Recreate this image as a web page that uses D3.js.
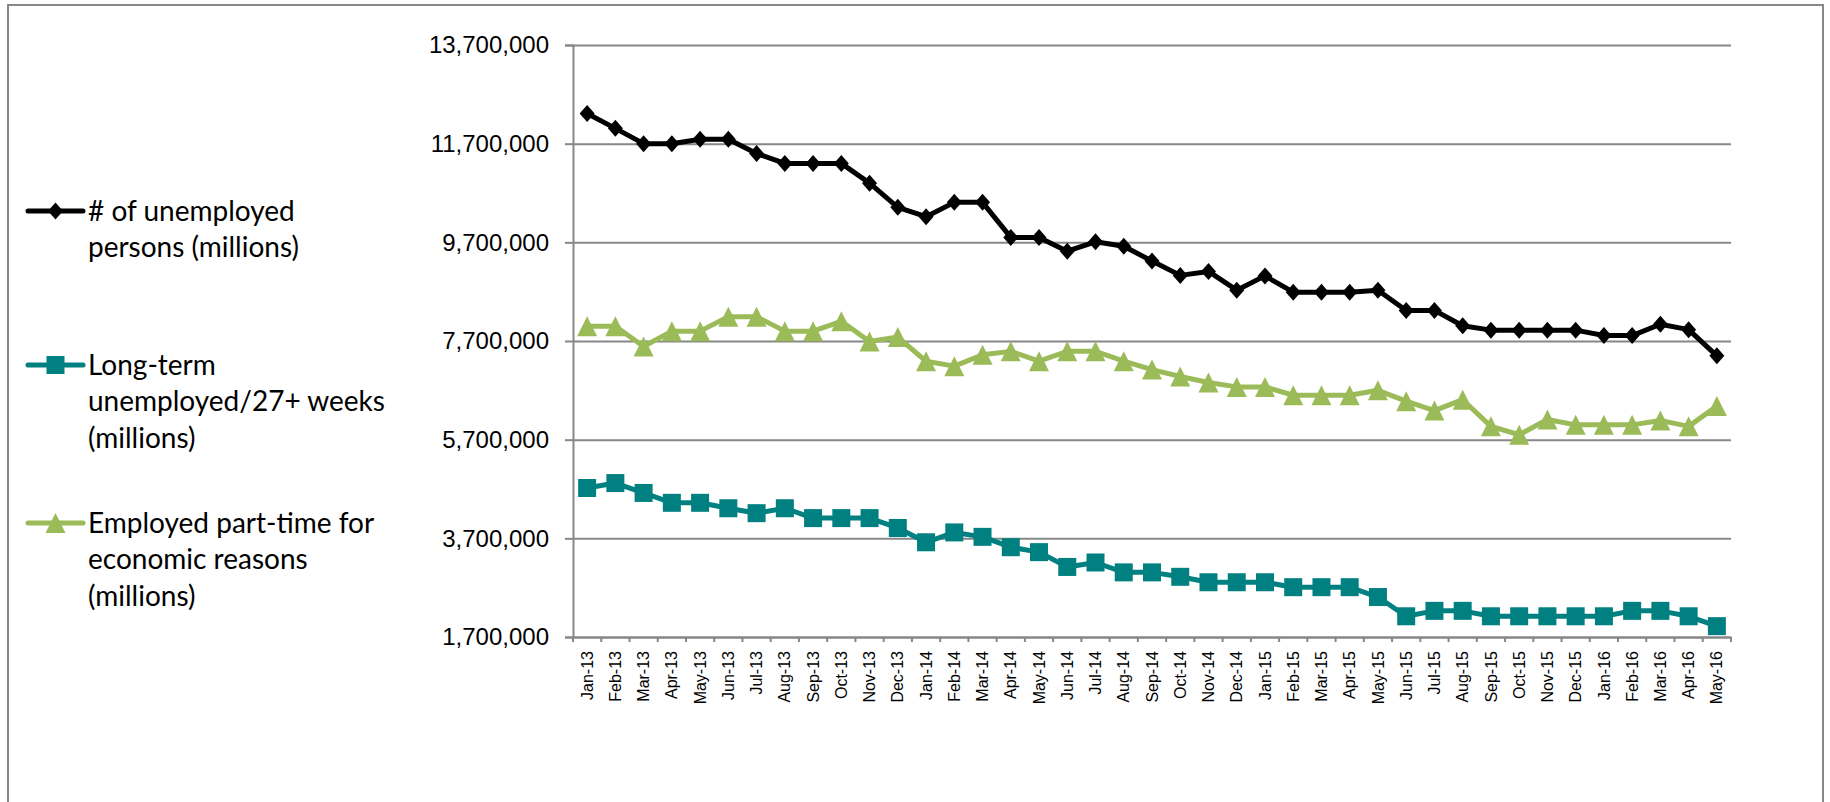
<!DOCTYPE html>
<html>
<head>
<meta charset="utf-8">
<script src="https://cdn.jsdelivr.net/npm/d3@7"></script>
<style>
  body { margin: 0; background: #fff; }
  svg { display: block; font-family: Lato, "Open Sans", sans-serif; }
</style>
</head>
<body>
<div id="chart"></div>
<script>
const months = [
  "Jan-13", "Feb-13", "Mar-13", "Apr-13", "May-13", "Jun-13", "Jul-13", "Aug-13", "Sep-13", "Oct-13", "Nov-13", "Dec-13",
  "Jan-14", "Feb-14", "Mar-14", "Apr-14", "May-14", "Jun-14", "Jul-14", "Aug-14", "Sep-14", "Oct-14", "Nov-14", "Dec-14",
  "Jan-15", "Feb-15", "Mar-15", "Apr-15", "May-15", "Jun-15", "Jul-15", "Aug-15", "Sep-15", "Oct-15", "Nov-15", "Dec-15",
  "Jan-16", "Feb-16", "Mar-16", "Apr-16", "May-16"
];
const unemployed = [
  12310000, 12010000, 11700000, 11700000, 11790000, 11790000, 11500000, 11300000, 11300000, 11300000, 10900000, 10410000,
  10220000, 10510000, 10510000, 9800000, 9800000, 9520000, 9710000, 9620000, 9320000, 9030000, 9110000, 8730000,
  9020000, 8690000, 8690000, 8690000, 8730000, 8320000, 8320000, 8010000, 7920000, 7920000, 7920000, 7920000,
  7810000, 7810000, 8040000, 7930000, 7400000
];
const longTerm = [
  4720000, 4820000, 4620000, 4420000, 4420000, 4310000, 4210000, 4310000, 4110000, 4110000, 4110000, 3910000,
  3620000, 3820000, 3730000, 3520000, 3420000, 3120000, 3210000, 3010000, 3010000, 2920000, 2810000, 2810000,
  2810000, 2710000, 2710000, 2710000, 2510000, 2120000, 2230000, 2230000, 2120000, 2120000, 2120000, 2120000,
  2120000, 2230000, 2230000, 2120000, 1920000
];
const partTime = [
  8000000, 8000000, 7590000, 7900000, 7900000, 8190000, 8190000, 7900000, 7900000, 8100000, 7690000, 7780000,
  7290000, 7190000, 7420000, 7490000, 7290000, 7490000, 7490000, 7290000, 7120000, 6980000, 6860000, 6770000,
  6770000, 6600000, 6600000, 6600000, 6700000, 6480000, 6290000, 6510000, 5970000, 5800000, 6110000, 6000000,
  6000000, 6000000, 6090000, 5970000, 6380000
];
const yTicks = [1700000, 3700000, 5700000, 7700000, 9700000, 11700000, 13700000];

const seriesNames = [
  ["# of unemployed", "persons (millions)"],
  ["Long-term", "unemployed/27+ weeks", "(millions)"],
  ["Employed part-time for", "economic reasons", "(millions)"]
];

const width = 1830, height = 802;
const plot = { left: 573, right: 1731, top: 45, bottom: 637 };
const gridColor = "#878787";

const svg = d3.select("#chart").append("svg")
  .attr("width", width)
  .attr("height", height);

// outer chart border (bottom edge runs off the page)
svg.append("rect")
  .attr("x", 8).attr("y", 5)
  .attr("width", 1815).attr("height", 820)
  .attr("fill", "none")
  .attr("stroke", gridColor)
  .attr("stroke-width", 2);

const x = d3.scaleBand().domain(months).range([plot.left, plot.right]);
const y = d3.scaleLinear().domain([1700000, 13700000]).range([plot.bottom, plot.top]);

// gridlines
svg.append("g")
  .attr("transform", `translate(${plot.left},0)`)
  .call(d3.axisLeft(y).tickValues(yTicks).tickSize(-(plot.right - plot.left)).tickFormat(""))
  .call(g => g.select(".domain").remove())
  .selectAll("line")
  .attr("stroke", gridColor)
  .attr("stroke-width", 2);

// y axis
const yAxis = svg.append("g")
  .attr("transform", `translate(${plot.left},0)`)
  .call(d3.axisLeft(y).tickValues(yTicks).tickSize(8).tickPadding(16).tickFormat(d3.format(",")));
yAxis.select(".domain").attr("stroke", gridColor).attr("stroke-width", 2);
yAxis.selectAll("line").attr("stroke", gridColor).attr("stroke-width", 2);
yAxis.selectAll("text").style("font-size", "24px").attr("fill", "#000");

// x axis: labels at category centres, ticks between categories
const xAxis = svg.append("g")
  .attr("transform", `translate(0,${plot.bottom})`)
  .call(d3.axisBottom(x).tickSize(0));
xAxis.select(".domain").attr("stroke", gridColor).attr("stroke-width", 2);
xAxis.selectAll("text")
  .attr("transform", "rotate(-90)")
  .attr("x", -14)
  .attr("y", 0)
  .attr("dy", "0.35em")
  .style("text-anchor", "end")
  .style("font-size", "16px")
  .attr("fill", "#000");
xAxis.selectAll(".between")
  .data(months.map(m => x(m)).concat([plot.right]))
  .enter().append("line")
  .attr("class", "between")
  .attr("x1", d => d).attr("x2", d => d)
  .attr("y1", 0).attr("y2", 5)
  .attr("stroke", gridColor)
  .attr("stroke-width", 2);

// marker shapes
function diamond(w, h) {
  const p = d3.path();
  p.moveTo(0, -h / 2); p.lineTo(w / 2, 0); p.lineTo(0, h / 2); p.lineTo(-w / 2, 0); p.closePath();
  return p.toString();
}
function square(s) {
  const p = d3.path();
  p.rect(-s / 2, -s / 2, s, s);
  return p.toString();
}
function triangle(w, h) {
  const p = d3.path();
  p.moveTo(0, -h / 2); p.lineTo(w / 2, h / 2); p.lineTo(-w / 2, h / 2); p.closePath();
  return p.toString();
}

const series = [
  { values: unemployed, color: "#000000", marker: diamond(15, 17), width: 5 },
  { values: longTerm, color: "#008080", marker: square(18), width: 5 },
  { values: partTime, color: "#9BBB59", marker: triangle(20, 20), width: 5 }
];

const line = d3.line()
  .x((d, i) => x(months[i]) + x.bandwidth() / 2)
  .y(d => y(d));

series.forEach(s => {
  svg.append("path")
    .datum(s.values)
    .attr("fill", "none")
    .attr("stroke", s.color)
    .attr("stroke-width", s.width)
    .attr("stroke-linejoin", "round")
    .attr("d", line);
  svg.append("g").selectAll("path")
    .data(s.values)
    .enter().append("path")
    .attr("transform", (d, i) => `translate(${x(months[i]) + x.bandwidth() / 2},${y(d)})`)
    .attr("d", s.marker)
    .attr("fill", s.color);
});

// legend
const legendTops = [211, 365, 523];
const lineGap = 36.5;
series.forEach((s, i) => {
  const g = svg.append("g").attr("transform", `translate(0,${legendTops[i]})`);
  g.append("line")
    .attr("x1", 28).attr("x2", 83)
    .attr("y1", 0).attr("y2", 0)
    .attr("stroke", s.color)
    .attr("stroke-width", 5)
    .attr("stroke-linecap", "round");
  g.append("path")
    .attr("transform", "translate(55.5,0)")
    .attr("d", s.marker)
    .attr("fill", s.color);
  g.selectAll("text")
    .data(seriesNames[i])
    .enter().append("text")
    .attr("x", 88)
    .attr("y", (d, j) => j * lineGap)
    .attr("dy", "0.35em")
    .style("font-size", "28px")
    .attr("fill", "#000")
    .text(d => d);
});
</script>
</body>
</html>
